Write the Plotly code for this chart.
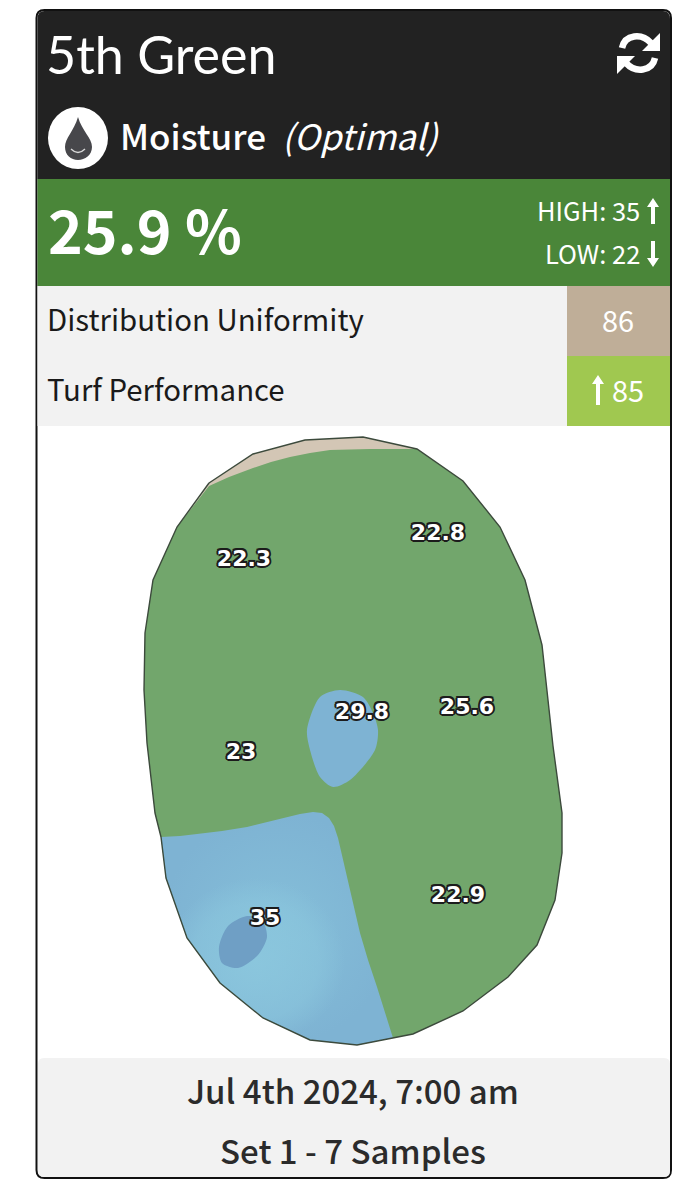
import plotly.graph_objects as go

# ---- data ----
sample_values = ["22.3", "22.8", "29.8", "25.6", "23", "35", "22.9"]
sample_x = [244, 438, 362, 467, 241, 265, 458]
sample_y = [560, 534, 713, 708, 753, 919, 896]

outline_x = [209, 253, 305, 363, 417, 463, 500, 525, 542, 553, 562, 562, 555, 537, 508, 463, 413, 393, 357, 310, 263, 220, 187, 166, 161, 155, 147, 144, 145, 153, 177, 209]
outline_y = [483, 454, 440, 437, 449, 481, 527, 580, 645, 746, 813, 853, 900, 945, 977, 1011, 1034, 1038, 1045, 1040, 1018, 983, 938, 878, 837, 813, 743, 690, 633, 580, 527, 483]

cap_edge_x = [209, 229, 253, 271, 290, 310, 330, 370, 417]
cap_edge_y = [486, 477, 468, 462, 457, 453, 450, 449, 449]

wet_x = [161, 180, 197, 222, 247, 268, 287, 300, 313, 322, 329, 334, 338, 347, 353, 360, 368, 377, 393, 357, 310, 263, 220, 187, 166, 161]
wet_y = [837, 836, 834, 831, 827, 822, 817, 814, 812, 813, 818, 826, 838, 877, 905, 933, 960, 987, 1038, 1045, 1040, 1018, 983, 938, 878, 837]

glow_x = [166, 345, 345, 310, 263, 220, 187, 166]
glow_y = [878, 878, 1044, 1040, 1018, 983, 938, 878]

pocket_x = [340, 363, 373, 378, 375, 350, 333, 320, 310, 307, 320, 340]
pocket_y = [690, 697, 713, 730, 750, 780, 787, 777, 750, 730, 697, 690]

core_x = [247, 262, 267, 258, 238, 222, 219, 228, 247]
core_y = [916, 920, 937, 955, 968, 963, 947, 926, 916]

title = "5th Green"
metric = "Moisture"
status = "(Optimal)"
reading = "25.9 %"
high_label = "HIGH: 35"
low_label = "LOW: 22"
row_labels = ["Distribution Uniformity", "Turf Performance"]
row_values = ["86", "85"]
footer_lines = ["Jul 4th 2024, 7:00 am", "Set 1 - 7 Samples"]

# ---- styles ----
GREEN = "#72a66c"
TAN = "#d3c6b5"
BLUE = "#7eb3d3"
CORE = "#6f9fc5"
SANS = "Noto Sans CJK JP"
HEAD = "Lato"

fig = go.Figure()


def area(xs, ys, fill, spline=False, **kw):
    fig.add_trace(go.Scatter(
        x=xs, y=ys, mode="lines", fill="toself", fillcolor=fill,
        line=dict(width=0, color=fill, shape="spline" if spline else "linear", smoothing=0.8),
        hoverinfo="skip", showlegend=False, **kw))


# map layers
area(outline_x, outline_y, TAN)
i0 = outline_x.index(417)
area(cap_edge_x + outline_x[i0 + 1:-1], cap_edge_y + outline_y[i0 + 1:-1], GREEN)
area(wet_x, wet_y, BLUE, fillgradient=dict(
    type="radial", colorscale=[[0, "#85bfd9"], [1, "#7eb3d3"]]))
area(glow_x, glow_y, "rgba(0,0,0,0)", fillgradient=dict(
    type="radial",
    colorscale=[[0, "rgba(140,200,222,0.85)"], [0.7, "rgba(140,200,222,0.5)"], [1, "rgba(140,200,222,0)"]]))
area(pocket_x, pocket_y, BLUE, spline=True)
area(core_x, core_y, CORE, spline=True)
fig.add_trace(go.Scatter(x=outline_x, y=outline_y, mode="lines",
                         line=dict(width=1.4, color="#3c4a3c"),
                         hoverinfo="skip", showlegend=False))

# sample labels
stroke = ",".join(f"{a}px {b}px 0 #1c1c1c" for a, b in
                  [(2, 0), (-2, 0), (0, 2), (0, -2), (1.5, 1.5), (-1.5, 1.5), (1.5, -1.5), (-1.5, -1.5)])
fig.add_trace(go.Scatter(
    x=sample_x, y=sample_y, mode="text", text=sample_values,
    textposition="middle center",
    textfont=dict(family="DejaVu Sans", size=22, color="white", weight=700, shadow=stroke),
    hoverinfo="skip", showlegend=False))


# card panels
def rect(x0, y0, x1, y1, color):
    fig.add_shape(type="rect", x0=x0, y0=y0, x1=x1, y1=y1,
                  fillcolor=color, line_width=0, layer="below")


r = 8
L = 36.5
fig.add_shape(type="path", layer="below", fillcolor="white", line=dict(color="#111111", width=2),
              path=f"M {L+r} 10 L {671-r} 10 Q 671 10 671 {10+r} L 671 {1178-r} Q 671 1178 {671-r} 1178 "
                   f"L {L+r} 1178 Q {L} 1178 {L} {1178-r} L {L} {10+r} Q {L} 10 {L+r} 10 Z")
fig.add_shape(type="path", layer="below", fillcolor="#222222", line_width=0,
              path=f"M {L+r} 11 L {671-r} 11 Q 670 11 670 {11+r} L 670 179 L 37.5 179 L 37.5 {11+r} Q 37.5 11 {L+r} 11 Z")
rect(37.5, 179, 670, 286, "#4a8639")
rect(37.5, 286, 567, 426, "#f2f2f2")
rect(567, 286, 670, 356, "#bfae98")
rect(567, 356, 670, 426, "#a0c850")
fig.add_shape(type="path", layer="below", fillcolor="#f2f2f2", line_width=0,
              path="M 44 1058 L 664 1058 Q 670 1058 670 1064 L 670 1171 Q 670 1177 664 1177 "
                   "L 44 1177 Q 38 1177 38 1171 L 38 1064 Q 38 1058 44 1058 Z")


def text(s, x, y, size, color="white", anchor="left", family=SANS, weight=400, style="normal"):
    fig.add_annotation(text=s, x=x, y=y, xref="x", yref="y", xanchor=anchor, yanchor="middle",
                       showarrow=False, borderpad=0, borderwidth=0,
                       font=dict(family=family, size=size, color=color, weight=weight, style=style))


text(title, 46, 54, 52, family=HEAD)
text(metric, 120, 134, 35, weight=500)
text(status, 282, 134, 35, style="italic")
text(reading, 48, 228, 59, weight=700)
text(high_label, 640, 209, 25.5, anchor="right")
text(low_label, 640, 252, 25.5, anchor="right")
text(row_labels[0], 47, 318, 29.4, color="#1a1a1a")
text(row_labels[1], 47, 388, 29.4, color="#1a1a1a")
text(row_values[0], 618, 319, 29, anchor="center")
text(row_values[1], 628, 389, 29, anchor="center")
text(footer_lines[0], 353, 1090, 33, color="#2b2b2b", anchor="center", weight=500)
text(footer_lines[1], 353, 1150, 33, color="#2b2b2b", anchor="center", weight=500)


# icons
def arrow(x, tip, tail):
    d = 1 if tail > tip else -1
    fig.add_shape(type="path", fillcolor="white", line_width=0,
                  path=f"M {x} {tip} L {x+6} {tip+9*d} L {x+2} {tip+9*d} L {x+2} {tail} "
                       f"L {x-2} {tail} L {x-2} {tip+9*d} L {x-6} {tip+9*d} Z")


arrow(653, 198, 224)
arrow(653, 267, 241)
arrow(598, 375, 405)

fig.add_shape(type="circle", x0=48, x1=108, y0=107, y1=169, fillcolor="white", line_width=0)
fig.add_shape(type="path", fillcolor="#47474b", line_width=0,
              path="M 78 117 C 74 131 65 138 65 147 C 65 155 71 160 78 160 C 85 160 92 155 92 147 C 92 138 82 131 78 117 Z")
fig.add_shape(type="path", line=dict(color="#d8d8d8", width=1.3),
              path="M 71 149 Q 78 156 85 149")

fig.add_shape(type="path", line=dict(color="white", width=6.5),
              path="M 622 48 C 625 34 642 33 651 43")
fig.add_shape(type="path", line=dict(color="white", width=6.5),
              path="M 655 58 C 652 72 635 73 626 63")
fig.add_shape(type="path", fillcolor="white", line_width=0, path="M 660 33 L 660 51 L 642 51 Z")
fig.add_shape(type="path", fillcolor="white", line_width=0, path="M 617 74 L 617 56 L 635 56 Z")

hidden = dict(visible=False, fixedrange=True)
fig.update_layout(
    width=699, height=1200, margin=dict(l=0, r=0, t=0, b=0),
    paper_bgcolor="white", plot_bgcolor="rgba(0,0,0,0)", showlegend=False,
    xaxis=dict(range=[0, 699], **hidden),
    yaxis=dict(range=[1200, 0], **hidden),
)
fig.write_html("out.html", config=dict(displayModeBar=False),
               post_script="document.body.style.margin='0';document.body.style.overflow='hidden';")
